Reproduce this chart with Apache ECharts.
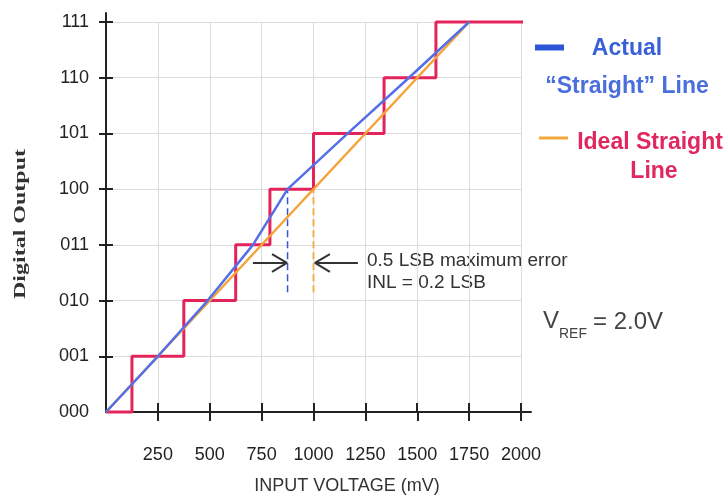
<!DOCTYPE html>
<html>
<head>
<meta charset="utf-8">
<script src="https://cdn.jsdelivr.net/npm/echarts@6/dist/echarts.min.js"></script>
<style>
  html, body { margin: 0; padding: 0; background: #fff; }
  #chart { width: 724px; height: 495px; }
</style>
</head>
<body>
<div id="chart"></div>
<script>
// axis ticks
var xTicks = [250, 500, 750, 1000, 1250, 1500, 1750, 2000];
var codeTicks = [1, 2, 3, 4, 5, 6, 7];
var codeLabels = ["000", "001", "010", "011", "100", "101", "110", "111"];

// ADC output staircase: voltage where each code starts (mV), and the code
var stairX = [0, 125, 375, 625, 790, 1000, 1340, 1590, 2010];
var stairY = [0, 1, 2, 3, 4, 5, 6, 7, 7];

// actual "straight" line
var actualX = [0, 250, 490, 708, 875, 1165, 1460, 1750];
var actualY = [0, 1, 2, 3, 4, 5, 6, 7];

// ideal straight line
var idealX = [0, 1750];
var idealY = [0, 7];

// dashed drop lines at code 100
var dropY = [2.15, 4];
var actualDropX = [875, 875];
var idealDropX = [1000, 1000];

// error arrows (tail, tip)
var arrowY = 2.675;
var arrowLeftX = [708, 872];
var arrowRightX = [1214, 1007];

function pts(xs, ys) {
  return xs.map(function (x, i) { return [x, ys[i]]; });
}

function arrowHead(tip, dir) {
  // open chevron, dir = +1 points right, -1 points left
  return [[tip - dir * 72, arrowY + 0.16], [tip, arrowY], [tip - dir * 72, arrowY - 0.16]];
}

var chart = echarts.init(document.getElementById("chart"));

var labelFont = { fontFamily: "Liberation Sans", fontSize: 18, color: "#222" };

function lineSeries(data, color, width, extra) {
  var s = {
    type: "line",
    xAxisIndex: 0,
    yAxisIndex: 0,
    data: data,
    symbol: "none",
    silent: true,
    lineStyle: { color: color, width: width }
  };
  for (var k in extra) s[k] = extra[k];
  return s;
}

chart.setOption({
  animation: false,
  grid: [
    { left: 106, top: 22, width: 415, height: 390 },
    { left: 106, top: 13, width: 425, height: 399 }
  ],
  xAxis: [
    {
      gridIndex: 0, type: "value", min: 0, max: 2000, interval: 250,
      axisLine: { show: false },
      axisTick: { show: true, length: 9, customValues: xTicks, lineStyle: { color: "#222", width: 2 } },
      axisLabel: Object.assign({
        customValues: xTicks, margin: 34,
        formatter: function (v) { return String(v); }
      }, labelFont),
      splitLine: { show: true, lineStyle: { color: "#dcdcdc", width: 1 } }
    },
    {
      gridIndex: 1, type: "value", min: 0, max: 2048.2,
      axisLine: { show: true, lineStyle: { color: "#222", width: 2 } },
      axisTick: { show: true, inside: true, length: 9, customValues: xTicks, lineStyle: { color: "#222", width: 2 } },
      axisLabel: { show: false },
      splitLine: { show: false }
    }
  ],
  yAxis: [
    {
      gridIndex: 0, type: "value", min: 0, max: 7, interval: 1,
      axisLine: { show: false },
      axisTick: { show: true, length: 7, customValues: codeTicks, lineStyle: { color: "#222", width: 2 } },
      axisLabel: Object.assign({
        margin: 17,
        formatter: function (v) { return codeLabels[v]; }
      }, labelFont),
      splitLine: { show: true, lineStyle: { color: "#dcdcdc", width: 1 } }
    },
    {
      gridIndex: 1, type: "value", min: 0, max: 7.1615,
      axisLine: { show: true, lineStyle: { color: "#222", width: 2 } },
      axisTick: { show: true, inside: true, length: 7, customValues: codeTicks, lineStyle: { color: "#222", width: 2 } },
      axisLabel: { show: false },
      splitLine: { show: false }
    }
  ],
  series: [
    lineSeries(pts(actualDropX, dropY), "#3457d0", 1.5, { lineStyle: { color: "#3457d0", width: 1.5, type: [7, 4] } }),
    lineSeries(pts(idealDropX, dropY), "#f6b04a", 2, { lineStyle: { color: "#f6b04a", width: 2, type: [7, 4] } }),
    lineSeries(pts(stairX, stairY), "#e3245b", 3, { step: "end", clip: false }),
    lineSeries(pts(idealX, idealY), "#f5a338", 2.5),
    lineSeries(pts(actualX, actualY), "#5470e6", 2.5),
    lineSeries(pts(arrowLeftX, [arrowY, arrowY]), "#333", 2),
    lineSeries(arrowHead(arrowLeftX[1], 1), "#333", 2),
    lineSeries(pts(arrowRightX, [arrowY, arrowY]), "#333", 2),
    lineSeries(arrowHead(arrowRightX[1], -1), "#333", 2)
  ],
  graphic: [
    {
      type: "text", x: 21, y: 224, rotation: Math.PI / 2, scaleX: 1.5,
      style: { text: "Digital Output", font: 'bold 16px "Liberation Serif"', fill: "#333", align: "center", verticalAlign: "middle" }
    },
    {
      type: "text", x: 347, y: 486,
      style: { text: "INPUT VOLTAGE (mV)", font: '18px "Liberation Sans"', fill: "#333", align: "center", verticalAlign: "middle" }
    },
    {
      type: "text", x: 367, y: 261,
      style: { text: "0.5 LSB maximum error", font: '19px "Liberation Sans"', fill: "#333", align: "left", verticalAlign: "middle" }
    },
    {
      type: "text", x: 367, y: 283,
      style: { text: "INL = 0.2 LSB", font: '19px "Liberation Sans"', fill: "#333", align: "left", verticalAlign: "middle" }
    },
    { type: "line", shape: { x1: 535, y1: 47.5, x2: 564, y2: 47.5 }, style: { stroke: "#2d56d6", lineWidth: 6 } },
    {
      type: "text", x: 627, y: 49,
      style: { text: "Actual", font: 'bold 23px "Liberation Sans"', fill: "#3a60d8", align: "center", verticalAlign: "middle" }
    },
    {
      type: "text", x: 627, y: 87,
      style: { text: "\u201CStraight\u201D Line", font: 'bold 23px "Liberation Sans"', fill: "#4a6edc", align: "center", verticalAlign: "middle" }
    },
    { type: "line", shape: { x1: 539, y1: 138, x2: 568, y2: 138 }, style: { stroke: "#f3a83b", lineWidth: 3 } },
    {
      type: "text", x: 650, y: 143,
      style: { text: "Ideal Straight", font: 'bold 23px "Liberation Sans"', fill: "#e0285f", align: "center", verticalAlign: "middle" }
    },
    {
      type: "text", x: 654, y: 172,
      style: { text: "Line", font: 'bold 23px "Liberation Sans"', fill: "#e0285f", align: "center", verticalAlign: "middle" }
    },
    {
      type: "text", x: 543, y: 321,
      style: { text: "V", font: '24px "Liberation Sans"', fill: "#444", align: "left", verticalAlign: "middle" }
    },
    {
      type: "text", x: 559, y: 334,
      style: { text: "REF", font: '14px "Liberation Sans"', fill: "#444", align: "left", verticalAlign: "middle" }
    },
    {
      type: "text", x: 593, y: 322,
      style: { text: "= 2.0V", font: '24px "Liberation Sans"', fill: "#444", align: "left", verticalAlign: "middle" }
    }
  ]
});
</script>
</body>
</html>
